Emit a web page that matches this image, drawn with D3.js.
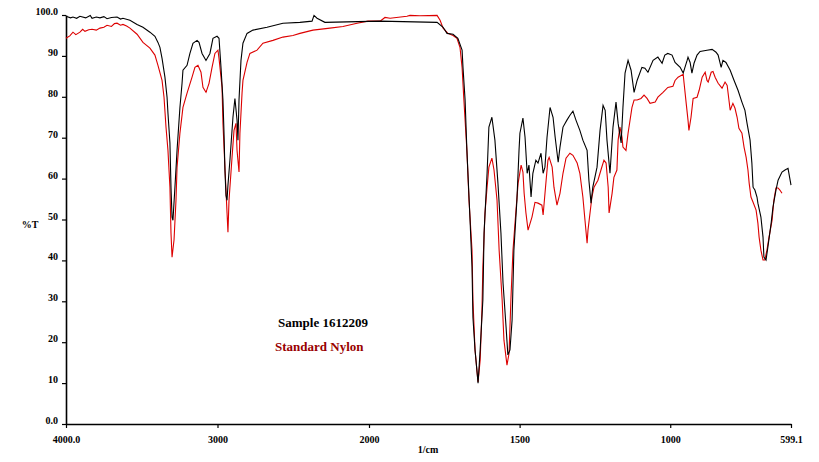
<!DOCTYPE html>
<html>
<head>
<meta charset="utf-8">
<script src="https://cdn.jsdelivr.net/npm/d3@7"></script>
<style>
  html, body { margin: 0; padding: 0; background: #fff; }
  svg { display: block; }
  text { font-family: "Liberation Serif", "Times New Roman", serif; font-weight: bold; }
</style>
</head>
<body>
<svg id="chart" width="819" height="462"></svg>
<script>
// ---- Data (wavenumber 1/cm, %T) ----
const xTickValues = [4000, 3000, 2000, 1500, 1000, 599.1];
const xTickLabels = ["4000.0", "3000", "2000", "1500", "1000", "599.1"];
const yTickValues = [0, 10, 20, 30, 40, 50, 60, 70, 80, 90, 100];
const yTickLabels = ["0.0", "10", "20", "30", "40", "50", "60", "70", "80", "90", "100.0"];
const seriesNames = ["Sample 1612209", "Standard Nylon"];

const sampleSpectrum = [
[4000,99.7],[3970,99.3],[3954,99.5],[3930,99.2],[3908,99.7],[3870,99.3],[3840,99.9],[3828,99.2],
[3800,99.5],[3776,99.3],[3750,99.6],[3729,99.1],[3700,99.4],[3663,99.5],[3640,99.0],[3624,99.2],
[3578,98.7],[3531,97.7],[3492,97.0],[3446,95.8],[3413,94.8],[3393,93.3],[3380,92.1],[3366,89.4],
[3347,84.8],[3333,79.9],[3327,76.0],[3314,68.7],[3307,57.9],[3300,50.6],[3294,49.8],[3281,57.9],
[3267,66.9],[3248,77.4],[3234,83.3],[3228,86.5],[3201,87.7],[3182,90.6],[3162,93.1],[3135,93.8],
[3122,93.3],[3102,90.6],[3076,88.9],[3050,90.6],[3030,94.3],[3003,94.8],[2990,94.3],[2977,87.2],
[2964,79.2],[2957,71.1],[2951,62.1],[2944,55.9],[2937,54.7],[2931,58.4],[2918,64.5],[2898,75.0],
[2885,79.6],[2871,74.3],[2865,69.4],[2858,79.2],[2845,88.9],[2832,93.1],[2805,95.5],[2766,96.3],
[2673,97.0],[2568,98.0],[2456,98.2],[2376,98.5],[2363,99.9],[2343,99.2],[2291,98.2],[1963,98.5],
[1774,98.2],[1754,97.0],[1741,95.5],[1721,95.3],[1705,94.3],[1691,91.4],[1688,87.2],[1681,79.2],
[1675,66.9],[1665,50.6],[1658,38.4],[1655,26.1],[1648,18.1],[1641,12.5],[1638,10.0],[1631,18.1],
[1622,30.3],[1618,46.7],[1608,61.3],[1602,72.6],[1592,75.0],[1582,69.4],[1572,58.9],[1562,46.7],
[1555,34.4],[1545,23.7],[1539,16.9],[1532,18.1],[1525,25.4],[1519,42.5],[1509,54.7],[1502,66.9],
[1499,71.1],[1489,74.8],[1482,70.1],[1475,61.3],[1469,63.3],[1462,55.5],[1456,61.3],[1446,64.5],
[1439,63.8],[1429,66.2],[1422,61.3],[1416,62.8],[1409,70.1],[1399,77.4],[1389,75.0],[1382,70.1],
[1372,64.0],[1366,67.7],[1356,72.6],[1343,74.3],[1333,75.5],[1323,76.5],[1313,74.3],[1300,71.8],
[1290,69.4],[1276,66.9],[1270,59.6],[1263,54.0],[1257,57.9],[1243,62.8],[1233,71.8],[1223,77.9],
[1216,76.7],[1210,69.4],[1200,61.3],[1190,72.6],[1180,78.7],[1173,73.5],[1163,68.7],[1157,77.4],
[1150,85.8],[1140,88.9],[1130,86.5],[1120,81.1],[1110,84.0],[1094,87.2],[1084,87.0],[1074,86.0],
[1057,88.9],[1041,89.7],[1027,88.2],[1018,90.2],[1008,90.6],[994,90.2],[984,88.4],[967,87.2],
[957,85.8],[944,88.9],[941,89.7],[934,88.4],[928,85.8],[921,88.2],[911,90.2],[901,91.1],
[878,91.4],[861,91.6],[848,90.9],[841,90.2],[831,87.2],[825,88.9],[815,88.4],[801,86.5],
[788,84.0],[775,81.6],[762,78.7],[752,76.7],[745,73.5],[735,69.4],[729,63.8],[725,57.9],
[719,57.2],[712,55.5],[709,54.0],[699,50.6],[692,45.7],[689,40.8],[682,40.1],[676,43.2],
[665,49.1],[659,53.0],[649,57.2],[642,59.6],[629,61.6],[619,62.1],[609,62.5],[599.1,58.4]
];

const nylonSpectrum = [
[4000,94.3],[3975,94.9],[3954,95.8],[3935,95.2],[3908,95.8],[3890,96.5],[3875,96.0],[3850,96.4],
[3828,96.5],[3800,96.3],[3776,96.8],[3750,97.0],[3729,97.5],[3700,97.2],[3680,97.9],[3663,98.0],
[3640,97.5],[3624,97.7],[3600,97.3],[3578,96.8],[3531,95.3],[3492,93.3],[3446,91.9],[3413,90.2],
[3393,87.7],[3366,84.0],
[3353,79.9],[3340,72.6],[3327,66.9],[3314,57.9],[3307,46.7],[3300,40.8],[3287,45.0],[3274,54.7],
[3267,62.8],[3248,71.1],[3228,77.4],[3201,80.9],[3168,84.8],[3149,87.2],[3129,87.7],[3109,86.0],
[3096,82.3],[3076,81.1],[3056,83.3],[3036,87.2],[3017,90.6],[2997,91.4],[2990,89.4],[2970,82.3],
[2964,73.5],[2951,62.8],[2937,51.6],[2931,46.9],[2924,54.7],[2904,65.2],[2891,71.8],[2878,73.5],
[2871,66.9],[2858,61.6],[2852,71.1],[2838,80.9],[2832,84.0],[2805,88.4],[2786,90.6],[2739,91.4],
[2700,93.1],[2634,93.8],[2568,94.6],[2502,95.0],[2456,95.5],[2370,96.3],[2258,96.8],[2172,97.2],
[2079,98.0],[2007,98.5],[1963,98.5],[1947,99.4],[1930,99.2],[1874,99.7],[1864,99.9],[1831,99.8],
[1774,99.9],[1764,98.7],[1754,96.8],[1738,95.5],[1721,95.0],[1708,94.3],[1698,92.1],[1691,87.2],
[1685,79.2],[1675,66.9],[1668,54.7],[1658,42.5],[1655,30.3],[1648,18.1],[1641,12.5],[1638,10.3],
[1631,15.6],[1625,27.9],[1622,38.4],[1615,51.6],[1608,57.9],[1602,62.8],[1592,65.0],[1585,62.1],
[1575,54.7],[1568,42.5],[1558,30.3],[1552,20.5],[1542,14.4],[1535,17.3],[1529,30.3],[1522,42.5],
[1512,52.3],[1505,58.9],[1495,63.3],[1489,61.6],[1485,56.4],[1479,51.6],[1472,47.4],[1459,50.6],
[1449,54.2],[1439,54.0],[1426,53.5],[1422,51.1],[1412,59.6],[1406,64.5],[1402,65.2],[1392,62.8],
[1386,57.9],[1376,53.5],[1366,56.4],[1356,61.3],[1346,65.0],[1333,66.2],[1323,65.7],[1309,63.8],
[1300,61.3],[1290,55.5],[1283,49.8],[1276,44.2],[1273,47.4],[1260,55.5],[1253,57.9],[1240,59.6],
[1230,62.1],[1220,64.5],[1213,63.8],[1206,57.9],[1203,51.6],[1193,56.4],[1187,60.3],[1177,62.1],
[1173,69.4],[1167,72.6],[1160,70.1],[1157,67.7],[1147,66.9],[1140,71.1],[1127,77.4],[1120,79.2],
[1110,79.2],[1097,79.6],[1087,80.4],[1077,79.6],[1067,78.4],[1050,78.7],[1041,79.9],[1024,81.1],
[1008,82.3],[991,82.6],[984,84.0],[974,84.8],[957,85.5],[954,83.3],[947,78.4],[941,74.3],
[938,71.8],[931,75.0],[924,79.6],[911,79.9],[904,81.6],[894,84.8],[884,86.0],[878,84.0],
[874,83.6],[864,86.0],[858,86.2],[851,84.8],[841,83.3],[828,82.1],[818,83.6],[811,82.8],
[801,76.7],[792,78.4],[785,77.2],[778,75.0],[772,72.3],[762,71.1],[755,67.7],[748,65.2],
[742,62.1],[738,58.9],[732,55.5],[725,54.2],[715,52.3],[709,49.1],[705,45.7],[699,42.5],
[692,40.1],[686,40.1],[679,42.5],[672,45.7],[662,49.8],[656,54.7],[649,57.7],[642,57.7],
[636,57.2],[629,56.4]
];

// ---- Layout ----
const svg = d3.select("#chart");
const mLeft = 66, mRight = 791, mTop = 15, mBottom = 424;

// IR spectra use an expanded scale below 2000 1/cm
const x = d3.scaleLinear().domain([4000, 2000, 599.1]).range([mLeft, 369, mRight]);
const y = d3.scaleLinear().domain([0, 100]).range([mBottom, mTop]);

const xAxis = d3.axisBottom(x).tickValues(xTickValues)
  .tickFormat((d, i) => xTickLabels[i]).tickSize(4).tickSizeOuter(0).tickPadding(8);
const yAxis = d3.axisLeft(y).tickValues(yTickValues)
  .tickFormat((d, i) => yTickLabels[i]).tickSize(4).tickSizeOuter(0).tickPadding(4);

const gx = svg.append("g").attr("transform", `translate(0,${mBottom})`).call(xAxis);
const gy = svg.append("g").attr("transform", `translate(${mLeft},0)`).call(yAxis);
[gx, gy].forEach(g => {
  g.select(".domain").attr("stroke", "#000").attr("stroke-width", 1.6);
  g.selectAll(".tick line").attr("stroke", "#000").attr("stroke-width", 1.2);
  g.selectAll("text").attr("fill", "#000").attr("font-size", 10)
    .attr("font-family", "'Liberation Serif', serif").attr("font-weight", "bold");
});
gy.selectAll(".tick text").attr("dy", "-0.05em");

// axis titles
svg.append("text").attr("x", 428).attr("y", 453).attr("text-anchor", "middle")
  .attr("font-size", 10).text("1/cm");
svg.append("text").attr("x", 30).attr("y", 228).attr("text-anchor", "middle")
  .attr("font-size", 10).text("%T");

// ---- Lines ----
const line = d3.line().x(d => x(d[0])).y(d => y(d[1]));
svg.append("path").datum(nylonSpectrum).attr("d", line)
  .attr("fill", "none").attr("stroke", "#dd0000").attr("stroke-width", 1.1);
svg.append("path").datum(sampleSpectrum).attr("d", line)
  .attr("fill", "none").attr("stroke", "#000").attr("stroke-width", 1.1);

// ---- Legend labels ----
svg.append("text").attr("x", 278).attr("y", 327).attr("font-size", 13)
  .attr("fill", "#000").text(seriesNames[0]);
svg.append("text").attr("x", 275).attr("y", 351).attr("font-size", 13)
  .attr("fill", "#990000").text(seriesNames[1]);
</script>
</body>
</html>
